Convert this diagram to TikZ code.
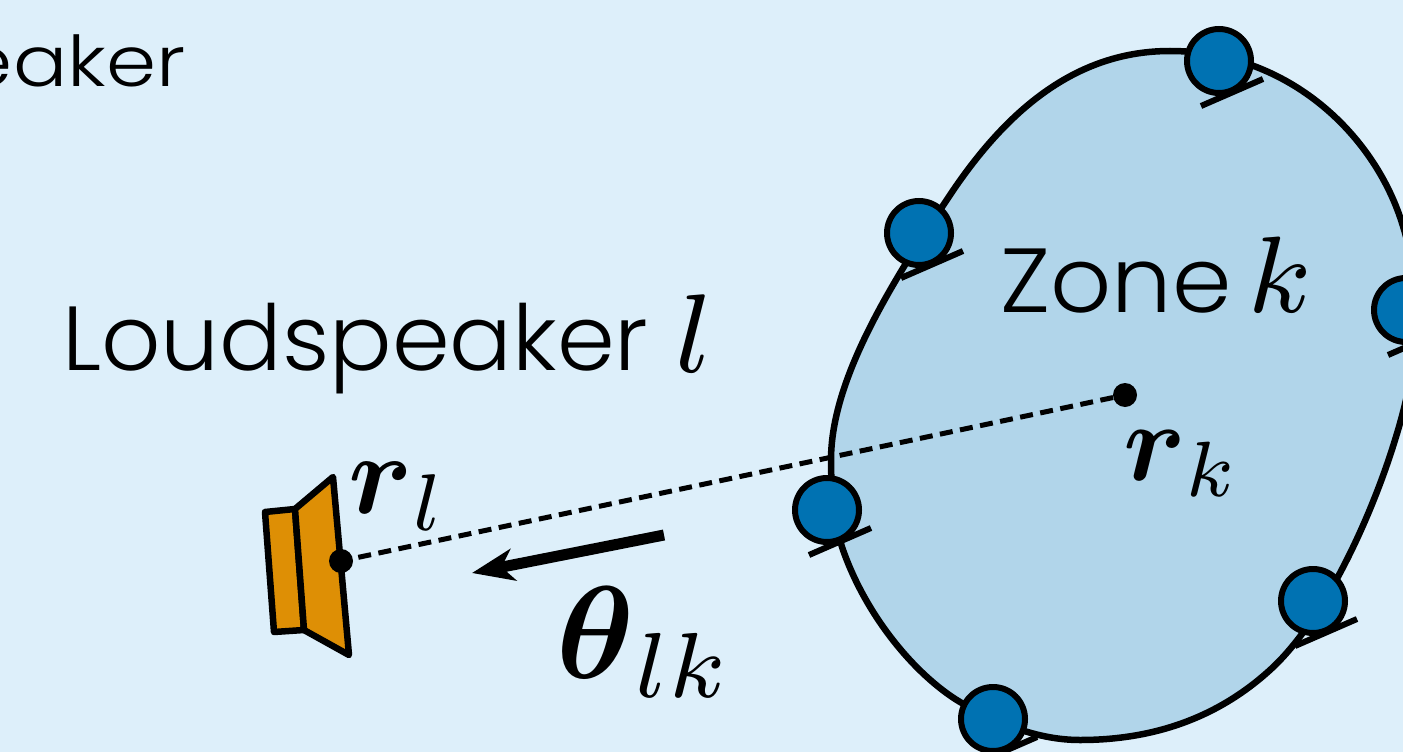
\documentclass[tikz,border=0pt]{standalone}
\usepackage{amsmath,amssymb}
\usepackage[no-math]{fontspec}
\setmainfont{Poppins}[UprightFont=* Light]
\usetikzlibrary{calc,arrows.meta}
\definecolor{bgc}{HTML}{DDEFFA}
\definecolor{zonec}{HTML}{B1D5EA}
\definecolor{micc}{HTML}{0072B2}
\definecolor{spkc}{HTML}{DE8F05}
\tikzset{
 mic/.style={circle,draw=black,fill=micc,line width=6pt,minimum size=64pt,inner sep=0pt},
 micbar/.style={line width=6pt},
 dotc/.style={circle,fill=black,minimum size=24pt,inner sep=0pt},
 lab/.style={anchor=base west,inner sep=0pt,outer sep=0pt},
 spk/.style={draw=black,fill=spkc,line width=6.5pt,line join=round},
}
\begin{document}
\begin{tikzpicture}[x=1pt,y=-1pt]
\useasboundingbox (0,0) rectangle (1403,752);
\clip (0,0) rectangle (1403,752);
\fill[bgc] (0,0) rectangle (1403,752);
% zone
\draw[fill=zonec,line width=6.5pt,line join=round]
 (1170,51) .. controls (1285,51) and (1370,130) .. (1400,217)
 .. controls (1425,290) and (1420,360) .. (1395,440)
 .. controls (1372,515) and (1325,620) .. (1270,670)
 .. controls (1215,720) and (1150,740) .. (1080,740)
 .. controls (1040,740) and (1000,725) .. (960,702)
 .. controls (915,675) and (865,615) .. (842,547)
 .. controls (834,520) and (831,490) .. (831,460)
 .. controls (831,380) and (890,285) .. (950,195)
 .. controls (1010,105) and (1080,51) .. (1170,51) -- cycle;
% speaker
\draw[spk] (265,512) -- (295,509) -- (304,630) -- (274,632) -- cycle;
\draw[spk] (295,509) -- (333,477) -- (349,655) -- (304,630) -- cycle;
% connector
\node[dotc] (rl) at (341,561) {};
\node[dotc] (rk) at (1125,395) {};
\draw[line width=5pt,dash pattern=on 13pt off 7.5pt,dash phase=15pt] (rl) -- (rk);
% arrow
\coordinate (as) at (664,535);
\coordinate (ae) at (472,573);
\draw[line width=11pt,-{Stealth[length=42pt,width=32pt,inset=12pt]}] (as) -- (ae);
% mics
\foreach \n/\x/\y in {m1/1219/61,m2/919/233,m3/1406/310,m4/827/510,m5/1313/601,m6/993/719}{
 \coordinate (b\n) at (\x,\y);
 \draw[micbar] ($(b\n)+(-18,45)$) -- ($(b\n)+(44,18)$);
 \node[mic] (\n) at (b\n) {};
}
% labels
\node[lab,xscale=1.15] (t0) at (-37,87) {\fontsize{70}{80}\selectfont eaker};
\node[lab,xscale=1.02] (t1) at (62,370) {\fontsize{91}{100}\selectfont Loudspeaker};
\node[lab,scale=14] (tl) at (675,372) {\fontsize{8}{9}\selectfont $l$};
\node[lab,xscale=1.05] (t2) at (1000,312) {\fontsize{91}{100}\selectfont Zone};
\node[lab,scale=13.6] (tk) at (1248,312) {\fontsize{8}{9}\selectfont $k$};
\node[lab,scale=11.5] (trl) at (348,513) {$\boldsymbol{r}_l$};
\node[lab,scale=11.2] (trk) at (1123,480) {$\boldsymbol{r}_k$};
\node[lab,scale=13.2] (tth) at (556,678) {$\boldsymbol{\theta}_{lk}$};
\end{tikzpicture}
\end{document}
